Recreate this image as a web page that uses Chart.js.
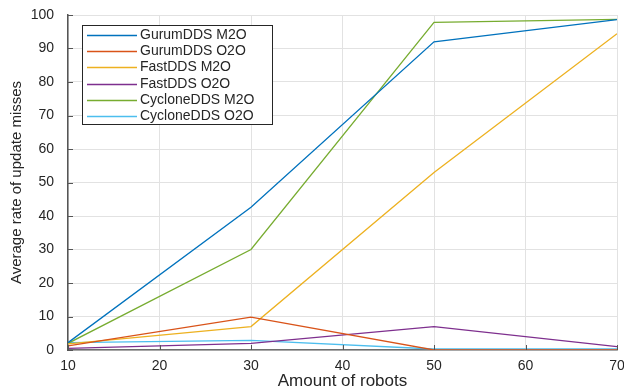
<!DOCTYPE html>
<html>
<head>
<meta charset="utf-8">
<script src="https://cdn.jsdelivr.net/npm/chart.js@4/dist/chart.umd.min.js"></script>
<style>
  body { margin: 0; background: #fff; }
</style>
</head>
<body>
<canvas id="myChart" width="624" height="390"></canvas>
<script>
const robots = [10, 30, 50, 70];
const labels = ['GurumDDS M2O', 'GurumDDS O2O', 'FastDDS M2O', 'FastDDS O2O', 'CycloneDDS M2O', 'CycloneDDS O2O'];
const gurumM2O = [2.2, 42.6, 92, 98.6];
const gurumO2O = [1.2, 9.8, 0, 0];
const fastM2O = [1.8, 7, 53, 94.4];
const fastO2O = [0.5, 2, 7, 1];
const cycloneM2O = [2, 30, 97.8, 98.7];
const cycloneO2O = [2.2, 2.9, 0.3, 0.3];
const xTicks = [10, 20, 30, 40, 50, 60, 70];
const yTicks = [0, 10, 20, 30, 40, 50, 60, 70, 80, 90, 100];

var colors = ['#0072BD', '#D95319', '#EDB120', '#7E2F8E', '#77AC30', '#4DBEEE'];
var series = [gurumM2O, gurumO2O, fastM2O, fastO2O, cycloneM2O, cycloneO2O];
var font = '"Liberation Sans", Arial, Helvetica, sans-serif';

var datasets = series.map(function(values, i) {
    return {
        label: labels[i],
        data: values.map((v, j) => ({x: robots[j], y: v})),
        borderColor: colors[i],
        backgroundColor: colors[i],
        borderWidth: 1.3,
        pointRadius: 0,
        tension: 0,
        fill: false
    };
});

// inward ticks like matlab + legend box inside the axes
var matlabAxes = {
    id: 'matlabAxes',
    afterDraw: function(chart) {
        var ctx = chart.ctx;
        var xs = chart.scales.x, ys = chart.scales.y;
        var area = chart.chartArea;
        ctx.save();
        ctx.strokeStyle = '#555';
        ctx.lineWidth = 1;
        xTicks.forEach(t => {
            var px = Math.round(xs.getPixelForValue(t)) + 0.5;
            ctx.beginPath();
            ctx.moveTo(px, area.bottom);
            ctx.lineTo(px, area.bottom - 5);
            ctx.stroke();
        });
        yTicks.forEach(t => {
            var py = Math.round(ys.getPixelForValue(t)) + 0.5;
            ctx.beginPath();
            ctx.moveTo(area.left, py);
            ctx.lineTo(area.left + 5, py);
            ctx.stroke();
        });

        // legend
        var bx = 82, by = 25, bw = 190, bh = 99;
        ctx.fillStyle = '#fff';
        ctx.fillRect(bx, by, bw, bh);
        ctx.strokeStyle = '#262626';
        ctx.strokeRect(bx + 0.5, by + 0.5, bw, bh);
        ctx.font = '14px ' + font;
        ctx.textBaseline = 'middle';
        ctx.textAlign = 'left';
        chart.data.datasets.forEach((ds, i) => {
            var y = Math.round(by + 10 + i * 16.2) + 0.5;
            ctx.strokeStyle = ds.borderColor;
            ctx.lineWidth = 1.3;
            ctx.beginPath();
            ctx.moveTo(87, y);
            ctx.lineTo(137, y);
            ctx.stroke();
            ctx.fillStyle = '#262626';
            ctx.fillText(ds.label, 140, y);
        });
        ctx.restore();
    }
};

// fixed axes box, labels are allowed to hang over the edges
function fixX(scale) {
    scale.height = 40;
    scale.paddingLeft = 0;
    scale.paddingRight = 0;
}
function fixY(scale) {
    scale.width = 68;
    scale.paddingTop = 0;
    scale.paddingBottom = 0;
}

var myChart = new Chart(document.getElementById('myChart'), {
    type: 'line',
    data: { datasets: datasets },
    plugins: [matlabAxes],
    options: {
        responsive: false,
        animation: false,
        layout: { padding: { top: 15, right: 7, left: 0, bottom: 0 } },
        plugins: {
            legend: { display: false },
            tooltip: { enabled: false }
        },
        scales: {
            x: {
                type: 'linear',
                min: 10,
                max: 70,
                afterFit: fixX,
                afterBuildTicks: function(scale) { scale.ticks = xTicks.map(v => ({value: v})); },
                ticks: { color: '#262626', font: { family: font, size: 14 }, padding: 8, maxRotation: 0 },
                grid: { color: '#e2e2e2', drawTicks: false },
                border: { color: '#6e6e6e', width: 1.5 },
                title: {
                    display: true,
                    text: 'Amount of robots',
                    color: '#262626',
                    font: { family: font, size: 17, lineHeight: 1 },
                    padding: { top: 1, bottom: 0 }
                }
            },
            y: {
                min: 0,
                max: 100,
                afterFit: fixY,
                afterBuildTicks: function(scale) { scale.ticks = yTicks.map(v => ({value: v})); },
                ticks: { color: '#262626', font: { family: font, size: 14 }, padding: 14 },
                grid: { color: '#e2e2e2', drawTicks: false },
                border: { color: '#555', width: 1.5 },
                title: {
                    display: true,
                    text: 'Average rate of update misses',
                    color: '#262626',
                    font: { family: font, size: 15, lineHeight: 1 },
                    padding: { top: 9, bottom: 0 }
                }
            }
        }
    }
});
</script>
</body>
</html>
